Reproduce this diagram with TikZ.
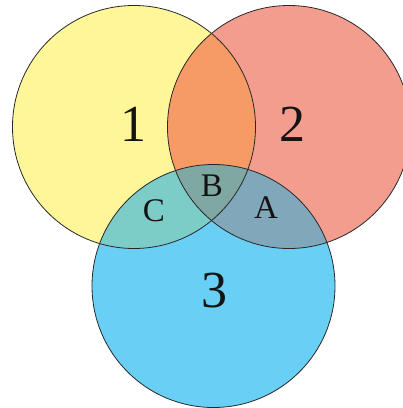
\documentclass[tikz,border=0pt]{standalone}
\usepackage{fontspec}
\setmainfont{Liberation Serif}
\definecolor{cyel}{RGB}{255,245,153}
\definecolor{cred}{RGB}{243,157,143}
\definecolor{cblu}{RGB}{106,207,244}
\definecolor{corg}{RGB}{246,155,102}
\definecolor{cteal}{RGB}{124,204,200}
\definecolor{cA}{RGB}{128,168,186}
\definecolor{cB}{RGB}{128,168,162}
\definecolor{cline}{RGB}{40,40,40}
\begin{document}
\begin{tikzpicture}[x=1pt,y=-1pt,
  big/.style={font=\fontsize{52}{52}\selectfont, text=black!92},
  small/.style={font=\fontsize{33}{33}\selectfont, text=black!92},
  ring/.style={draw=cline, line width=0.8pt}]
\useasboundingbox (0,0) rectangle (403,408);
\def\R{121.5}
\coordinate (c1) at (134,127);
\coordinate (c2) at (289,127);
\coordinate (c3) at (213.5,286);
\fill[cyel] (c1) circle (\R);
\fill[cred] (c2) circle (\R);
\fill[cblu] (c3) circle (\R);
\begin{scope}
  \clip (c1) circle (\R);
  \fill[corg] (c2) circle (\R);
  \fill[cteal] (c3) circle (\R);
\end{scope}
\begin{scope}
  \clip (c2) circle (\R);
  \fill[cA] (c3) circle (\R);
\end{scope}
\begin{scope}
  \clip (c1) circle (\R);
  \clip (c2) circle (\R);
  \fill[cB] (c3) circle (\R);
\end{scope}
\draw[ring] (c1) circle (\R);
\draw[ring] (c2) circle (\R);
\draw[ring] (c3) circle (\R);
\node[big] (n1) at (134,124) {1};
\node[big] (n2) at (292,124) {2};
\node[big] (n3) at (214,291) {3};
\node[small] (lB) at (212,186) {B};
\node[small] (lC) at (154,211) {C};
\node[small] (lA) at (266,208) {A};
\end{tikzpicture}
\end{document}
